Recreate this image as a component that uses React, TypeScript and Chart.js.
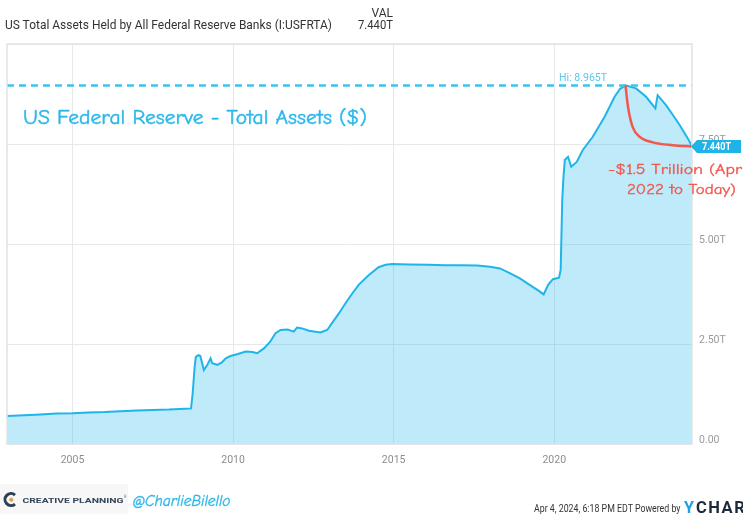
import React, { useEffect, useRef } from "react";
import { Chart, registerables } from "chart.js";

Chart.register(...registerables);

// Decimal-year dates and US Fed total assets (trillions of USD)
const dates = [
  2002.96, 2003.5, 2004.0, 2004.5, 2005.0, 2005.5, 2006.0, 2006.5, 2007.0, 2007.5,
  2008.0, 2008.5, 2008.69, 2008.74, 2008.8, 2008.84, 2008.92, 2008.98, 2009.09, 2009.2,
  2009.3, 2009.35, 2009.51, 2009.65, 2009.77, 2009.92, 2010.15, 2010.39, 2010.6, 2010.75,
  2010.96, 2011.15, 2011.32, 2011.48, 2011.7, 2011.89, 2011.99, 2012.15, 2012.36, 2012.72,
  2012.93, 2013.08, 2013.3, 2013.5, 2013.7, 2013.91, 2014.22, 2014.53, 2014.75, 2014.95,
  2015.5, 2016.09, 2016.6, 2017.1, 2017.6, 2018.0, 2018.31, 2018.6, 2018.93, 2019.34,
  2019.5, 2019.67, 2019.81, 2019.96, 2020.15, 2020.2, 2020.25, 2020.29, 2020.33, 2020.43,
  2020.53, 2020.7, 2020.89, 2021.2, 2021.57, 2021.88, 2022.05, 2022.22, 2022.55, 2022.86,
  2023.15, 2023.22, 2023.48, 2023.7, 2023.9, 2024.16, 2024.29,
];
const totalAssets = [
  0.7, 0.72, 0.74, 0.76, 0.77, 0.79, 0.8, 0.82, 0.84, 0.85,
  0.86, 0.88, 0.89, 1.25, 1.9, 2.18, 2.22, 2.2, 1.85, 1.98,
  2.14, 2.02, 1.98, 2.04, 2.14, 2.2, 2.25, 2.31, 2.3, 2.27,
  2.39, 2.55, 2.77, 2.85, 2.86, 2.81, 2.91, 2.89, 2.83, 2.79,
  2.85, 3.02, 3.27, 3.52, 3.75, 3.98, 4.22, 4.42, 4.48, 4.5,
  4.49, 4.48, 4.47, 4.47, 4.46, 4.43, 4.39, 4.28, 4.14, 3.92,
  3.84, 3.74, 3.98, 4.12, 4.16, 4.35, 6.1, 6.7, 7.1, 7.18,
  6.93, 7.05, 7.35, 7.68, 8.18, 8.68, 8.88, 8.965, 8.89, 8.68,
  8.39, 8.72, 8.47, 8.22, 7.98, 7.64, 7.44,
];

// Hand-drawn red decline annotation (Apr 2022 peak to today)
const declineDates = [2022.22, 2022.27, 2022.32, 2022.45, 2022.66, 2023.07, 2023.69, 2024.29];
const declineValues = [8.965, 8.6, 8.32, 7.91, 7.68, 7.54, 7.47, 7.44];

const hiValue = 8.965;
const lastValue = 7.44;
const xMin = 2002.96;
const xMax = 2024.29;
const xTicks = [2005, 2010, 2015, 2020];
const yTicks = [0, 2.5, 5, 7.5, 10];
const hiLabelYear = 2020.15;

const fitText = (ctx: CanvasRenderingContext2D, text: string, x: number, y: number, w: number) => {
  const m = ctx.measureText(text).width;
  ctx.save();
  ctx.translate(x, y);
  ctx.scale(w / m, 1);
  ctx.fillText(text, 0, 0);
  ctx.restore();
};

const overlayPlugin = {
  id: "overlay",
  afterDraw(chart: any) {
    const { ctx, chartArea: a, scales } = chart;
    ctx.save();
    // plot frame
    ctx.strokeStyle = "#e2e2e2";
    ctx.lineWidth = 1.5;
    ctx.strokeRect(a.left, a.top, a.right - a.left, a.bottom - a.top);

    // Hi label
    const yHi = scales.y.getPixelForValue(hiValue);
    ctx.fillStyle = "#5ac7ef";
    ctx.font = "11px Roboto";
    ctx.textAlign = "left";
    ctx.textBaseline = "alphabetic";
    fitText(ctx, "Hi: 8.965T", scales.x.getPixelForValue(hiLabelYear), yHi - 4, 48);

    // last value tag
    const yL = scales.y.getPixelForValue(lastValue);
    const x0 = a.right;
    ctx.fillStyle = "#1fb3e8";
    ctx.beginPath();
    ctx.moveTo(x0 - 1, yL);
    ctx.lineTo(x0 + 5, yL - 6.5);
    ctx.lineTo(741, yL - 6.5);
    ctx.lineTo(741, yL + 6.5);
    ctx.lineTo(x0 + 5, yL + 6.5);
    ctx.closePath();
    ctx.fill();
    ctx.fillStyle = "#ffffff";
    ctx.font = "bold 11px Roboto";
    ctx.textBaseline = "middle";
    fitText(ctx, "7.440T", x0 + 10, yL + 0.5, 29);
    ctx.restore();
  },
};

export default function App() {
  const ref = useRef<HTMLCanvasElement>(null);

  useEffect(() => {
    const mainData = dates.map((d, i) => ({ x: d, y: totalAssets[i] }));
    const redData = declineDates.map((d, i) => ({ x: d, y: declineValues[i] }));
    const hiData = [
      { x: xMin, y: hiValue },
      { x: xMax, y: hiValue },
    ];
    const chart = new Chart(ref.current as HTMLCanvasElement, {
      type: "line",
      data: {
        datasets: [
          {
            data: redData,
            borderColor: "#f2584d",
            borderWidth: 2.5,
            pointRadius: 0,
            fill: false,
            cubicInterpolationMode: "monotone",
          },
          {
            data: hiData,
            borderColor: "#3cc3f0",
            borderWidth: 2.5,
            borderDash: [7, 5],
            pointRadius: 0,
            fill: false,
          },
          {
            data: mainData,
            borderColor: "#1fb5ea",
            backgroundColor: "rgba(31,184,234,0.29)",
            borderWidth: 2,
            pointRadius: 0,
            fill: "origin",
            tension: 0,
          },
        ],
      } as any,
      options: {
        animation: false,
        responsive: false,
        devicePixelRatio: 1,
        layout: { padding: { left: 7, top: 44, right: 0, bottom: 0 } },
        plugins: { legend: { display: false }, tooltip: { enabled: false } },
        scales: {
          x: {
            type: "linear",
            min: xMin,
            max: xMax,
            afterBuildTicks: (s: any) => {
              s.ticks = xTicks.map((v) => ({ value: v }));
            },
            afterFit: (s: any) => {
              s.height = 77;
            },
            ticks: {
              callback: (v: any) => String(v),
              color: "#8c8c8c",
              font: { family: "Roboto", size: 10.5 },
              padding: 10,
              maxRotation: 0,
              autoSkip: false,
            },
            grid: { color: "#e8e8e8", drawTicks: false },
            border: { display: false },
          },
          y: {
            position: "right",
            min: 0,
            max: 10,
            afterBuildTicks: (s: any) => {
              s.ticks = yTicks.map((v) => ({ value: v }));
            },
            afterFit: (s: any) => {
              s.width = 51;
            },
            ticks: {
              callback: (v: any) => (v === 0 ? "0.00" : v === 10 ? "" : Number(v).toFixed(2) + "T"),
              color: "#9a9a9a",
              font: { family: "Roboto", size: 10.5 },
              padding: 7,
              labelOffset: -4,
            },
            grid: { color: "#e8e8e8", drawTicks: false },
            border: { display: false },
          },
        },
      } as any,
      plugins: [overlayPlugin],
    });
    return () => chart.destroy();
  }, []);

  const hand = "'Comic Sans MS', 'Comic Neue', Lato, sans-serif";
  return (
    <div style={{ position: "fixed", left: 0, top: 0, width: 743, height: 521, background: "#fff", overflow: "hidden" }}>
      <canvas ref={ref} width={743} height={521} style={{ position: "absolute", left: 0, top: 0, width: 743, height: 521 }} />
      <svg width={743} height={521} style={{ position: "absolute", left: 0, top: 0, pointerEvents: "none" }}>
        <text x={5} y={28.5} fontFamily="Roboto" fontSize={13} fill="#333" textLength={327} lengthAdjust="spacingAndGlyphs">
          US Total Assets Held by All Federal Reserve Banks (I:USFRTA)
        </text>
        <text x={393} y={16.5} fontFamily="Roboto" fontSize={12} fill="#333" textAnchor="end">VAL</text>
        <text x={393} y={28.5} fontFamily="Roboto" fontSize={12.5} fill="#333" textAnchor="end" textLength={35} lengthAdjust="spacingAndGlyphs">7.440T</text>

        <text x={23} y={123.5} fontFamily={hand} fontSize={19.5} fill="#2bb8ea" stroke="#2bb8ea" strokeWidth={0.45} textLength={344} lengthAdjust="spacingAndGlyphs">
          US Federal Reserve - Total Assets ($)
        </text>

        <text x={608} y={173.5} fontFamily={hand} fontSize={14.5} fill="#f2584d" stroke="#f2584d" strokeWidth={0.35} textLength={134} lengthAdjust="spacingAndGlyphs">
          -$1.5 Trillion (Apr
        </text>
        <text x={627} y={193.5} fontFamily={hand} fontSize={14.5} fill="#f2584d" stroke="#f2584d" strokeWidth={0.35} textLength={109} lengthAdjust="spacingAndGlyphs">
          2022 to Today)
        </text>

        <rect x={0} y={484} width={128} height={30} fill="#f7f7f7" />
        <path d="M 15 495 A 6 6 0 1 0 15 504" stroke="#2d3e50" strokeWidth={3} fill="none" />
        <rect x={9.5} y={498} width={3.5} height={3.5} fill="#d9a441" transform="rotate(45 11.25 499.75)" />
        <text x={22.5} y={502.8} fontFamily="Roboto" fontWeight="bold" fontSize={8} fill="#34475a" textLength={101} lengthAdjust="spacingAndGlyphs">
          CREATIVE PLANNING
        </text>
        <text x={124} y={498} fontFamily="Roboto" fontSize={3} fill="#34475a">®</text>
        <text x={132.5} y={505.5} fontFamily={hand} fontStyle="italic" fontSize={15} fill="#2bb8ea" stroke="#2bb8ea" strokeWidth={0.35} textLength={98} lengthAdjust="spacingAndGlyphs">
          @CharlieBilello
        </text>

        <text x={534} y={511.5} fontFamily="Roboto" fontSize={11} fill="#333" textLength={146.5} lengthAdjust="spacingAndGlyphs">
          Apr 4, 2024, 6:18 PM EDT Powered by
        </text>
        <text x={684} y={513.3} fontFamily="Roboto" fontWeight="bold" fontSize={16.5} fill="#1ba3e6" textLength={10} lengthAdjust="spacingAndGlyphs">Y</text>
        <text x={696} y={513.3} fontFamily="Roboto" fontWeight="bold" fontSize={16.5} fill="#1c2a39" letterSpacing={1.5}>CHARTS</text>
      </svg>
    </div>
  );
}
